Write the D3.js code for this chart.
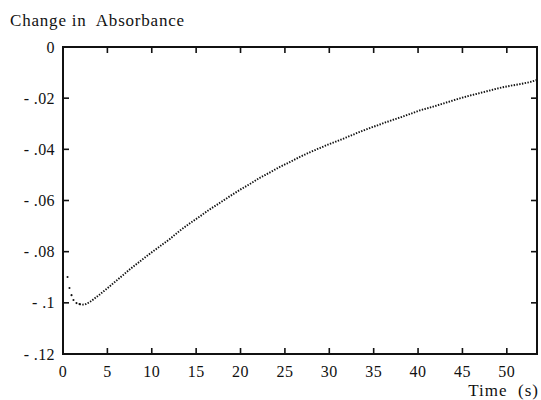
<!DOCTYPE html>
<html>
<head>
<meta charset="utf-8">
<script src="https://cdn.jsdelivr.net/npm/d3@7"></script>
<style>
  html, body { margin: 0; padding: 0; background: #fff; }
  svg { display: block; }
  text { font-family: "Liberation Serif", "DejaVu Serif", serif; fill: #111; }
</style>
</head>
<body>
<svg id="chart" width="541" height="400"></svg>
<script>
// ---- data ----
const timeS = [0.51,0.73,0.96,1.18,1.52,1.86,2.20,2.54,2.99,3.55,4.11,5.24,6.37,7.50,8.63,9.75,
  10.88,12.01,13.13,14.26,15.39,16.52,17.64,18.77,19.90,21.03,22.15,23.28,24.41,25.54,26.66,
  27.79,28.92,30.05,31.17,32.30,33.43,34.56,35.68,36.81,37.94,39.07,40.19,41.32,42.45,43.57,
  44.70,45.83,46.96,48.08,49.21,50.34,51.47,52.59,53.38];
const absorbance = [-0.0899,-0.0942,-0.0970,-0.0989,-0.1001,-0.1005,-0.1007,-0.1005,-0.0997,-0.0983,
  -0.0968,-0.0936,-0.0903,-0.0870,-0.0839,-0.0809,-0.0780,-0.0751,-0.0719,-0.0690,-0.0663,-0.0635,
  -0.0610,-0.0584,-0.0559,-0.0536,-0.0512,-0.0491,-0.0469,-0.0450,-0.0430,-0.0412,-0.0395,-0.0379,
  -0.0364,-0.0348,-0.0332,-0.0317,-0.0303,-0.0289,-0.0276,-0.0262,-0.0248,-0.0237,-0.0225,-0.0213,
  -0.0201,-0.0190,-0.0180,-0.0170,-0.0160,-0.0152,-0.0145,-0.0137,-0.0129];
const xTicks = [0,5,10,15,20,25,30,35,40,45,50];
const yTicks = [0,-0.02,-0.04,-0.06,-0.08,-0.1,-0.12];
const yTickLabels = ["0","- .02","- .04","- .06","- .08","- .1","- .12"];
const yTitle = "Change in  Absorbance";
const xTitle = "Time  (s)";

// ---- layout ----
const L = 63, R = 537, T = 47, B = 354;
const svg = d3.select("#chart");
const x = d3.scaleLinear().domain([0, 53.4]).range([L, R]);
const y = d3.scaleLinear().domain([-0.12, 0]).range([B, T]);
const data = timeS.map((t, i) => ({t, v: absorbance[i]}));

// frame
svg.append("rect").attr("x", L).attr("y", T).attr("width", R - L).attr("height", B - T)
  .attr("fill", "none").attr("stroke", "#111").attr("stroke-width", 2);

const tl = 6;
// ticks on all four sides, inward
const g = svg.append("g").attr("stroke", "#111").attr("stroke-width", 1.6);
xTicks.filter(d => d > 0).forEach(d => {
  g.append("line").attr("x1", x(d)).attr("x2", x(d)).attr("y1", B).attr("y2", B - tl);
  g.append("line").attr("x1", x(d)).attr("x2", x(d)).attr("y1", T).attr("y2", T + tl);
});
yTicks.filter(d => d !== 0 && d !== -0.12).forEach(d => {
  g.append("line").attr("x1", L).attr("x2", L + tl).attr("y1", y(d)).attr("y2", y(d));
  g.append("line").attr("x1", R).attr("x2", R - tl).attr("y1", y(d)).attr("y2", y(d));
});

// tick labels
svg.append("g").selectAll("text").data(xTicks).join("text")
  .attr("x", d => x(d)).attr("y", 377).attr("text-anchor", "middle")
  .attr("font-size", 16).attr("letter-spacing", 0.5).text(d => d);
svg.append("g").selectAll("text").data(yTicks).join("text")
  .attr("x", 55).attr("y", d => y(d) + 5.5).attr("text-anchor", "end")
  .attr("font-size", 16).attr("letter-spacing", 0.4).text((d, i) => yTickLabels[i]);

// titles
svg.append("text").attr("x", 10).attr("y", 26).attr("font-size", 17)
  .attr("letter-spacing", 0.8).style("white-space", "pre").text(yTitle);
svg.append("text").attr("x", 539).attr("y", 396).attr("text-anchor", "end")
  .attr("font-size", 17).attr("letter-spacing", 1).style("white-space", "pre").text(xTitle);

// data: isolated dots for the fast initial drop, dotted trace afterwards
const early = data.filter(d => d.t < 2.0);
const late = data.filter(d => d.t >= 1.86);
svg.append("g").selectAll("circle").data(early).join("circle")
  .attr("cx", d => x(d.t)).attr("cy", d => y(d.v)).attr("r", 1.05).attr("fill", "#111");
svg.append("path").datum(late)
  .attr("d", d3.line().x(d => x(d.t)).y(d => y(d.v)).curve(d3.curveMonotoneX))
  .attr("fill", "none").attr("stroke", "#111").attr("stroke-width", 1.9)
  .attr("stroke-dasharray", "1.4 1.4");
</script>
</body>
</html>
